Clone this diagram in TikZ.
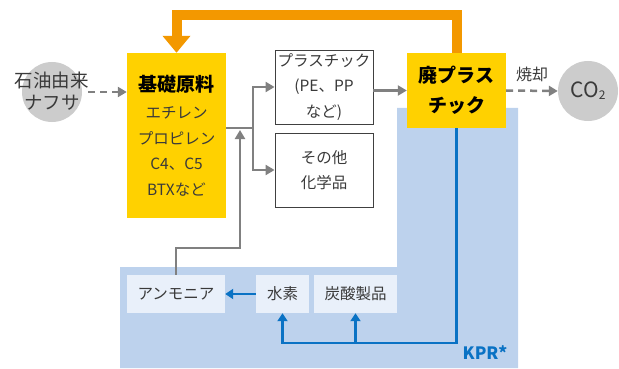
\documentclass[tikz,border=0pt]{standalone}
\usepackage{fontspec}
\setmainfont{Noto Sans CJK JP}
\usetikzlibrary{arrows.meta}

\definecolor{kiiro}{HTML}{FFD100}
\definecolor{daidai}{HTML}{F39800}
\definecolor{haiiro}{HTML}{808080}
\definecolor{haimaru}{HTML}{CCCCCC}
\definecolor{usuao}{HTML}{BDD2ED}
\definecolor{hako}{HTML}{E9F0FA}
\definecolor{ao}{HTML}{0A72C4}
\definecolor{moji}{HTML}{3A3A3A}

\tikzset{
  kisobox/.style={fill=kiiro, inner sep=0pt, minimum width=99pt, align=center},
  shirobox/.style={draw=black!75, line width=0.9pt, fill=white, minimum width=98pt,
    minimum height=74pt, inner sep=0pt, align=center},
  kprbox/.style={fill=hako, minimum height=38pt, inner sep=0pt},
  maru/.style={circle, fill=haimaru, minimum size=60pt, inner sep=0pt},
  yaji/.style={draw=haiiro, line width=2.5pt, -{Triangle[width=10pt,length=9pt]}},
  tensen/.style={yaji, dash pattern=on 7pt off 5pt},
  aosen/.style={draw=ao, line width=2.2pt},
  aoyaji/.style={aosen, -{Triangle[width=10pt,length=8pt]}},
  modori/.style={draw=daidai, line width=10pt, -{Triangle[width=27pt,length=17pt]}},
  futo/.style={font=\fontsize{19}{30}\selectfont\bfseries},
}

\begin{document}
\begin{tikzpicture}[x=1pt,y=-1pt,font=\fontsize{15.5}{25.5}\selectfont,text=moji]
  \useasboundingbox (0,0) rectangle (619,369);
  % KPR area
  \fill[usuao] (120,267) -- (397,267) -- (397,108) -- (518,108) -- (518,368) -- (120,368) -- cycle;
  \node[text=ao, font=\fontsize{17}{17}\selectfont\bfseries] (kpr) at (485,353) {KPR*};

  % sources and sinks
  \node[maru] (naf) at (52,92) {};
  \node[align=center, font=\fontsize{18.5}{22}\selectfont] (naftxt) at (52,91) {石油由来\\ナフサ};
  \node[maru] (co2) at (588,91) {};
  \node[font=\fontsize{21}{21}\selectfont] (co2txt) at (588,91)
    {CO\raisebox{-0.15ex}{\fontsize{12}{12}\selectfont 2}};

  % boxes
  \node[kisobox, minimum height=165pt] (kiso) at (176.5,135.5)
    {{\fontsize{19}{19}\selectfont\bfseries\color{black} 基礎原料}\\[2pt]
     エチレン\\プロピレン\\C4、C5\\BTXなど};
  \node[shirobox] (pla) at (324,87) {プラスチック\\(PE、PP\\など)};
  \node[shirobox] (sonota) at (324,170) {その他\\化学品};
  \node[kisobox, futo, text=black, minimum height=75pt] (haipla) at (456.5,90.5) {廃プラス\\チック};
  \node[kprbox, minimum width=98pt] (amm) at (176,294) {アンモニア};
  \node[kprbox, minimum width=53pt] (suiso) at (282.5,294) {水素};
  \node[kprbox, minimum width=83pt] (tansan) at (355.5,294) {炭酸製品};

  % gray flow
  \coordinate (bunki) at (253,128);
  \coordinate (goryu) at (240,130);
  \draw[tensen] ([xshift=6pt]naf.east) -- (kiso.west |- naf);
  \draw[draw=haiiro, line width=2.5pt] (kiso.east |- bunki) -- (bunki);
  \draw[yaji] (bunki) |- (pla.west);
  \draw[yaji] (bunki) |- (sonota.west);
  \draw[yaji] (amm.north) -- ++(0,-27) -| (goryu);
  \draw[yaji] (pla.east |- haipla.west) -- (haipla.west);
  \draw[tensen] (haipla.east) -- node[above=4pt, text=moji, font=\fontsize{16}{16}\selectfont] {焼却} (co2.west);

  % recycling loop
  \draw[modori] (haipla.north) -- ++(0,-38) -| (kiso.north);

  % KPR flow
  \coordinate (soko) at (355.5,343);
  \draw[aoyaji] (haipla.south) |- (soko) -| (suiso.south);
  \draw[aoyaji] (soko) -- (tansan.south);
  \draw[aoyaji] (suiso.west) -- (amm.east);
\end{tikzpicture}
\end{document}
